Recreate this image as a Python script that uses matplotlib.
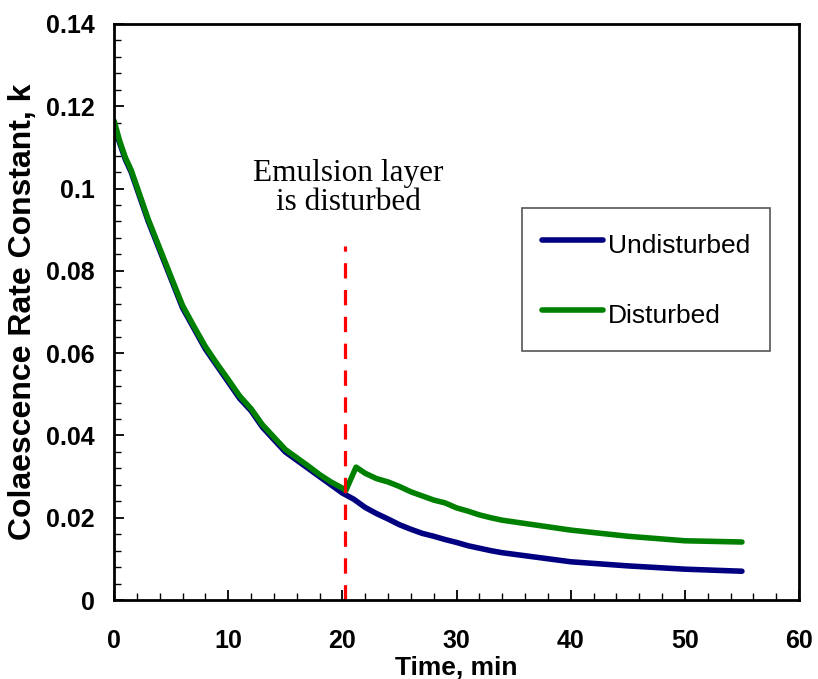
#!/usr/bin/env python3
"""Coalescence rate constant vs time, undisturbed vs disturbed emulsion layer."""

import matplotlib

matplotlib.use("Agg")
import matplotlib.pyplot as plt
from matplotlib.font_manager import FontProperties
from matplotlib.ticker import MultipleLocator

# values
time_undisturbed = [0, 0.5, 1, 1.5, 2, 3, 4, 5, 6, 7, 8, 9, 10, 11, 12, 13, 14, 15, 16, 17,
                    18, 19, 20, 21, 22, 23, 24, 25, 26, 27, 28, 29, 30, 31, 32, 33, 34,
                    40, 45, 50, 55]
k_undisturbed = [0.115, 0.111, 0.107, 0.104, 0.100, 0.092, 0.085, 0.078, 0.071, 0.066,
                 0.061, 0.057, 0.053, 0.049, 0.046, 0.042, 0.039, 0.036, 0.034, 0.032,
                 0.030, 0.028, 0.026, 0.0245, 0.0225, 0.021, 0.0197, 0.0183, 0.0172,
                 0.0162, 0.0155, 0.0147, 0.0140, 0.0132, 0.0126, 0.0120, 0.0115,
                 0.0093, 0.0083, 0.0075, 0.0070]

time_disturbed = [0, 0.5, 1, 1.5, 2, 3, 4, 5, 6, 7, 8, 9, 10, 11, 12, 13, 14, 15, 16, 17,
                  18, 19, 20, 20.3, 21.2, 22, 23, 24, 25, 26, 27, 28, 29, 30, 31, 32, 33, 34,
                  40, 45, 50, 55]
k_disturbed = [0.1165, 0.1115, 0.1075, 0.1045, 0.1005, 0.0925, 0.0855, 0.0785, 0.0716,
               0.0665, 0.0616, 0.0575, 0.0536, 0.0496, 0.0465, 0.0426, 0.0396, 0.0366,
               0.0346, 0.0326, 0.0305, 0.0287, 0.0272, 0.0266, 0.0323, 0.0308, 0.0295,
               0.0287, 0.0276, 0.0263, 0.0253, 0.0243, 0.0236, 0.0224, 0.0216, 0.0207,
               0.0200, 0.0194, 0.0170, 0.0155, 0.0144, 0.0141]

disturb_time = 20.2
disturb_top = 0.086
note_text = "Emulsion layer\nis disturbed"


def main() -> int:
    fig = plt.figure(figsize=(8.18, 6.79), dpi=100)
    ax = fig.add_axes([0.1394, 0.1163, 0.8374, 0.8484])

    ax.plot(time_undisturbed, k_undisturbed, color="#000080", linewidth=4,
            solid_capstyle="round", solid_joinstyle="round", label="Undisturbed")
    ax.plot(time_disturbed, k_disturbed, color="#008000", linewidth=4,
            solid_capstyle="round", solid_joinstyle="round", label="Disturbed")
    ax.plot([disturb_time, disturb_time], [0, disturb_top], color="#FF0000",
            linewidth=2.3, dashes=(4.8, 3.6))

    ax.text(20.5, 0.1002, note_text, ha="center", va="center", fontsize=22.5,
            family="Liberation Serif", linespacing=1.0)

    ax.set_xlim(0, 60)
    ax.set_ylim(0, 0.14)
    ax.xaxis.set_major_locator(MultipleLocator(10))
    ax.xaxis.set_minor_locator(MultipleLocator(2))
    ax.yaxis.set_minor_locator(MultipleLocator(0.004))
    ax.set_yticks([0, 0.02, 0.04, 0.06, 0.08, 0.1, 0.12, 0.14],
                  ["0", "0.02", "0.04", "0.06", "0.08", "0.1", "0.12", "0.14"])

    tick_font = FontProperties(family="Liberation Sans", weight="bold", size=18)
    for lab in ax.get_xticklabels() + ax.get_yticklabels():
        lab.set_fontproperties(tick_font)
    ax.tick_params(which="both", direction="in", color="black")
    ax.tick_params(which="major", length=7, width=1.3)
    ax.tick_params(which="minor", length=5, width=1.0)
    ax.tick_params(axis="x", which="major", pad=21)
    ax.tick_params(axis="y", which="major", pad=14)

    for spine in ax.spines.values():
        spine.set_linewidth(2)

    ax.set_xlabel("Time, min", family="Liberation Sans", weight="bold", fontsize=19,
                  labelpad=2)
    ax.set_ylabel("Colaescence Rate Constant, k", family="Liberation Sans",
                  weight="bold", fontsize=23, labelpad=6)

    leg = ax.legend(loc="upper left", bbox_to_anchor=(0.596, 0.681), borderaxespad=0,
                    prop=dict(family="Liberation Sans", size=19), fancybox=False,
                    handlelength=2.3, handleheight=1.6, handletextpad=0.2,
                    labelspacing=1.36, borderpad=0.75)
    leg.get_frame().set_edgecolor("#555555")
    leg.get_frame().set_linewidth(1.2)
    leg.get_frame().set_alpha(1)

    fig.savefig("out.png", dpi=100)
    plt.close(fig)
    return 0


if __name__ == "__main__":
    raise SystemExit(main())
